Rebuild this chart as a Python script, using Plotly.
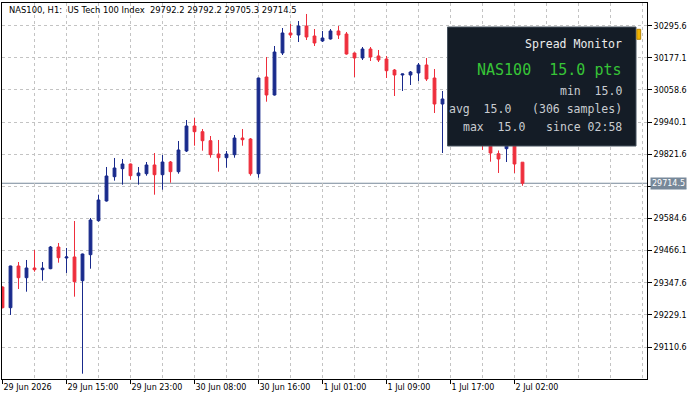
import plotly.graph_objects as go

# ---- data ----
bar_index = list(range(66))
opens = [29331.9, 29255.6, 29409.4, 29366.2, 29402.0, 29395.7, 29399.4, 29479.4, 29438.9, 29442.6,
         29355.2, 29451.1, 29576.4, 29649.1, 29738.7, 29768.2, 29785.5, 29742.4, 29749.8, 29781.9,
         29746.1, 29792.9, 29757.2, 29833.5, 29925.7, 29904.7, 29871.5, 29822.4, 29808.8, 29819.9,
         29881.4, 29877.8, 29749.8, 30106.4, 30040.0, 30194.9, 30268.7, 30261.3, 30294.5, 30257.6,
         30239.2, 30246.6, 30276.1, 30265.0, 30194.9, 30176.5, 30209.7, 30183.9, 30172.8, 30132.2,
         30113.8, 30113.8, 30121.2, 30150.7, 30102.7, 30006.8, 30025.3, 29977.3, 29999.5, 29940.4,
         29910.9, 29874.1, 29823.5, 29842.0, 29877.0, 29792.2]
highs = [29334.0, 29410.5, 29424.1, 29431.5, 29468.4, 29424.1, 29483.1, 29494.2, 29475.8, 29575.3,
         29455.0, 29586.4, 29672.3, 29774.5, 29807.7, 29804.0, 29787.0, 29774.5, 29792.9, 29826.1,
         29818.7, 29796.6, 29870.4, 29947.8, 29955.2, 29914.6, 29888.8, 29874.1, 29833.5, 29892.5,
         29914.6, 29881.4, 30103.5, 30180.2, 30220.7, 30287.1, 30301.9, 30312.9, 30338.8, 30283.4,
         30276.1, 30283.4, 30294.5, 30272.4, 30196.5, 30217.0, 30217.0, 30206.0, 30183.9, 30135.9,
         30118.5, 30128.5, 30158.0, 30176.5, 30135.9, 30054.8, 30036.3, 30021.6, 30010.5, 29962.6,
         29925.7, 29892.5, 29835.3, 29896.2, 29888.8, 29792.2]
lows = [29253.0, 29228.7, 29324.5, 29314.6, 29388.3, 29355.2, 29397.5, 29421.5, 29383.6, 29296.2,
        29012.2, 29399.4, 29572.8, 29647.0, 29724.0, 29709.2, 29727.6, 29709.2, 29742.4, 29672.3,
        29690.8, 29716.6, 29749.8, 29829.8, 29853.0, 29834.6, 29808.8, 29757.2, 29771.9, 29808.8,
        29853.0, 29742.4, 29735.0, 30015.3, 30038.0, 30187.5, 30250.2, 30235.5, 30242.9, 30220.7,
        30235.5, 30244.5, 30246.6, 30189.0, 30106.4, 30169.1, 30165.4, 30161.7, 30102.7, 30036.3,
        30054.8, 30076.9, 30091.7, 30091.7, 29973.6, 29826.1, 29955.2, 29947.8, 29918.3, 29885.1,
        29837.2, 29794.0, 29752.4, 29792.9, 29752.4, 29705.3]
closes = [29255.6, 29409.4, 29366.2, 29402.0, 29395.7, 29401.5, 29479.4, 29440.0, 29442.6, 29351.5,
          29453.6, 29579.0, 29652.8, 29741.3, 29770.8, 29785.5, 29742.4, 29752.4, 29781.9, 29746.1,
          29792.9, 29757.2, 29837.2, 29925.7, 29904.7, 29871.5, 29819.9, 29808.8, 29822.4, 29881.4,
          29875.2, 29749.8, 30102.7, 30040.0, 30198.6, 30268.7, 30261.3, 30294.5, 30253.9, 30231.8,
          30250.2, 30276.1, 30261.3, 30191.2, 30176.5, 30209.7, 30180.2, 30169.1, 30129.6, 30113.8,
          30117.5, 30124.8, 30150.7, 30099.0, 30006.8, 30025.3, 29977.3, 29999.5, 29940.4, 29910.9,
          29874.1, 29826.1, 29804.0, 29877.0, 29785.5, 29714.5]

time_tick_pos = [0, 8, 16, 24, 32, 40, 48, 56, 64]
time_tick_labels = ["29 Jun 2026", "29 Jun 15:00", "29 Jun 23:00", "30 Jun 08:00", "30 Jun 16:00",
                    "1 Jul 01:00", "1 Jul 09:00", "1 Jul 17:00", "2 Jul 02:00"]
price_ticks = [30295.6, 30177.1, 30058.6, 29940.1, 29821.6, 29703.1, 29584.6, 29466.1,
               29347.6, 29229.1, 29110.6]
price_tick_labels = ["%.1f" % v for v in price_ticks]
current_price = 29714.5

title_text = ("NAS100, H1:\u00a0\u00a0US Tech 100 Index\u00a0\u00a0"
              "29792.2 29792.2 29705.3 29714.5")
panel_lines = [
    ("Spread Monitor", "#ececec", 11.5),
    ("NAS100\u00a0\u00a015.0 pts", "#37c437", 15),
    ("min\u00a0\u00a015.0", "#c9ccd1", 11.5),
    ("avg\u00a0\u00a015.0\u00a0\u00a0\u00a0(306 samples)", "#c9ccd1", 11.5),
    ("max\u00a0\u00a015.0\u00a0\u00a0\u00a0since 02:58", "#c9ccd1", 11.5),
]
panel_line_y = [0.8910, 0.8210, 0.7660, 0.7173, 0.6702]

BULL = "#192a8c"
BEAR = "#ee2e3c"
GRID = "#c3c3c3"
FONT = "DejaVu Sans"

fig = go.Figure()
fig.add_trace(go.Candlestick(
    x=bar_index, open=opens, high=highs, low=lows, close=closes,
    increasing=dict(line=dict(color=BULL, width=1), fillcolor=BULL),
    decreasing=dict(line=dict(color=BEAR, width=1), fillcolor=BEAR),
    whiskerwidth=0, showlegend=False, hoverinfo="skip",
))

minor_vals = [v for v in range(4, 81, 4) if v not in time_tick_pos]

fig.update_layout(
    width=700, height=400,
    margin=dict(l=2, r=53, t=3, b=21, pad=0),
    paper_bgcolor="white", plot_bgcolor="white",
    boxgap=0.5,
    font=dict(family=FONT, size=8, color="black"),
    xaxis=dict(
        type="linear", range=[-0.0625, 80.5625],
        rangeslider=dict(visible=False),
        tickmode="array", tickvals=time_tick_pos, ticktext=time_tick_labels,
        ticks="outside", ticklen=4, tickcolor="black", tickwidth=1,
        ticklabelposition="outside right",
        showgrid=True, gridcolor=GRID, griddash="3px,3px", gridwidth=1,
        minor=dict(tickmode="array", tickvals=minor_vals, showgrid=True,
                   gridcolor=GRID, griddash="3px,3px", ticks=""),
        showline=True, linecolor="black", linewidth=1, mirror=True,
        zeroline=False, fixedrange=True,
        tickfont=dict(family=FONT, size=8, color="black"),
    ),
    yaxis=dict(
        range=[28992.6, 30379.3], side="right",
        tickmode="array", tickvals=price_ticks, ticktext=price_tick_labels,
        ticks="outside", ticklen=4, tickcolor="black", tickwidth=1,
        showgrid=True, gridcolor=GRID, griddash="3px,3px", gridwidth=1,
        showline=True, linecolor="black", linewidth=1, mirror=True,
        zeroline=False, fixedrange=True,
        tickfont=dict(family=FONT, size=8, color="black"),
    ),
)

# current price line
fig.add_shape(type="line", xref="paper", x0=0, x1=1, yref="y",
              y0=current_price, y1=current_price,
              line=dict(color="#778899", width=1), layer="below")

# spread monitor panel
fig.add_shape(type="rect", xref="paper", yref="paper",
              x0=0.6907, x1=0.98295, y0=0.61968, y1=0.93617,
              fillcolor="#141c26", line=dict(color="#46525e", width=1), layer="above")
fig.add_shape(type="rect", xref="paper", yref="paper",
              x0=0.9843, x1=0.9902, y0=0.9035, y1=0.9301,
              fillcolor="#f2b400", line=dict(color="#b88400", width=1), layer="above")

annotations = [
    dict(text=title_text, xref="paper", yref="paper", x=0.0073, y=0.9815,
         xanchor="left", yanchor="middle", showarrow=False,
         font=dict(family=FONT, size=8.4, color="black")),
    dict(text="%.1f" % current_price, xref="paper", yref="y", x=1, y=current_price,
         xanchor="left", yanchor="middle", xshift=3, showarrow=False,
         bgcolor="#778899", borderpad=1,
         font=dict(family=FONT, size=8, color="white")),
]
for (txt, col, sz), yy in zip(panel_lines, panel_line_y):
    annotations.append(dict(text=txt, xref="paper", yref="paper", x=0.9651, y=yy,
                            xanchor="right", yanchor="middle", showarrow=False,
                            font=dict(family="DejaVu Sans Mono", size=sz, color=col)))
fig.update_layout(annotations=annotations)

fig.write_html("out.html", config={"displayModeBar": False})
